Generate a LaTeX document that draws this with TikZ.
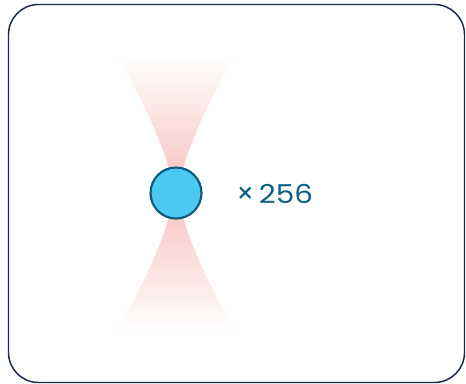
\documentclass[tikz,border=0pt]{standalone}
\usepackage{fontspec}
\setmainfont{Poppins}
\newfontfamily\digitfont[FakeStretch=1.13]{Poppins}
\definecolor{framec}{HTML}{1B2A4A}
\definecolor{beamc}{HTML}{F8BFBD}
\definecolor{ballfill}{HTML}{4CC9F2}
\definecolor{balldraw}{HTML}{0C5A7E}
\definecolor{textc}{HTML}{0E5F86}
\newlength{\pxu}\setlength{\pxu}{0.75pt}
\tikzset{
  frame/.style={draw=framec, line width=1.1pt, rounded corners=22.5pt},
  ball/.style={circle, fill=ballfill, draw=balldraw, line width=1.6pt, minimum size=51\pxu, inner sep=0pt},
  label/.style={text=textc, anchor=west, inner sep=0pt}
}
\begin{document}
\begin{tikzpicture}[x=0.75pt,y=-0.75pt]
\useasboundingbox (0,0) rectangle (466,384);
\draw[frame] (8.5,4.5) rectangle (464.5,382.5);
% beam (hourglass), symmetric about x=176, waist at y=193
\shade[top color=white, bottom color=white, middle color=beamc]
  plot[domain=-138:138, samples=81, smooth] ({176-2-0.0579*exp(1.4*ln(abs(\x)+0.01))}, {193+\x})
  -- plot[domain=138:-138, samples=81, smooth] ({176+2+0.0579*exp(1.4*ln(abs(\x)+0.01))}, {193+\x})
  -- cycle;
\node[ball] (b) at (176,193) {};
\node[label] (n) at (236,193.5) {{\fontsize{21}{21}\selectfont ×}\hspace{3.5pt}{\digitfont\fontsize{19.5}{19.5}\selectfont 256}};
\end{tikzpicture}
\end{document}
